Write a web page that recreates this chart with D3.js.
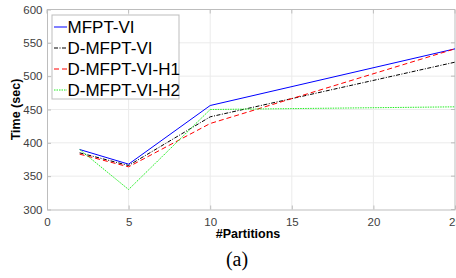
<!DOCTYPE html>
<html><head><meta charset="utf-8">
<script src="https://cdn.jsdelivr.net/npm/d3@7/dist/d3.min.js"></script>
<style>body{margin:0;background:#fff}svg{display:block}
.sans{font-family:'Liberation Sans',Arial,sans-serif}
.serif{font-family:'Liberation Serif','Times New Roman',serif}
</style>
</head><body><svg id="c" width="456" height="278"></svg>
<script>
const partitions = [2, 5, 10, 25];
const seriesNames = ["MFPT-VI", "D-MFPT-VI", "D-MFPT-VI-H1", "D-MFPT-VI-H2"];
const mfptVI = [390, 368, 456, 541];
const dMfptVI = [385, 366, 439, 521];
const dMfptVIH1 = [383, 364, 429, 541];
const dMfptVIH2 = [390, 330, 450, 454];
const xTicks = [0, 5, 10, 15, 20, 25];
const yTicks = [300, 350, 400, 450, 500, 550, 600];
const colors = ["#0000ff", "#000000", "#ff0000", "#22ee22"];
const dashes = [null, "4,1.5,1,1.5", "5,3", "1.5,1"];
const allSeries = [mfptVI, dMfptVI, dMfptVIH1, dMfptVIH2];

const svg = d3.select("#c");
const L = 47, R = 455, T = 9.5, B = 209.5;
const x = d3.scaleLinear().domain([0, 25]).range([L, R]);
const y = d3.scaleLinear().domain([300, 600]).range([B, T]);

// grid
svg.append("g").selectAll("line").data(xTicks.slice(1, -1)).join("line")
  .attr("x1", d => x(d)).attr("x2", d => x(d)).attr("y1", T).attr("y2", B)
  .attr("stroke", "#ebebeb").attr("stroke-width", 1);
svg.append("g").selectAll("line").data(yTicks.slice(1, -1)).join("line")
  .attr("y1", d => y(d)).attr("y2", d => y(d)).attr("x1", L).attr("x2", R)
  .attr("stroke", "#ebebeb").attr("stroke-width", 1);

// axes
const xa = svg.append("g").attr("transform", `translate(0,${B})`)
  .call(d3.axisBottom(x).tickValues(xTicks).tickSizeInner(-4).tickSizeOuter(0).tickPadding(8));
const ya = svg.append("g").attr("transform", `translate(${L},0)`)
  .call(d3.axisLeft(y).tickValues(yTicks).tickSizeInner(-4).tickSizeOuter(0).tickPadding(4.5));
[xa, ya].forEach(a => {
  a.attr("font-family", null).attr("font-size", null);
  a.selectAll("path,line").attr("stroke", "#bdbdbd");
  a.selectAll("text").attr("class", "sans").attr("fill", "#404040").style("font-size", "11.5px");
});
// top & right frame
svg.append("line").attr("x1", L).attr("x2", R).attr("y1", T).attr("y2", T).attr("stroke", "#bdbdbd");
svg.append("line").attr("x1", R).attr("x2", R).attr("y1", T).attr("y2", B).attr("stroke", "#bdbdbd");
svg.append("g").selectAll("line").data(yTicks).join("line")
  .attr("x1", R - 4).attr("x2", R).attr("y1", d => y(d)).attr("y2", d => y(d)).attr("stroke", "#bdbdbd");
svg.append("g").selectAll("line").data(xTicks).join("line")
  .attr("y1", T).attr("y2", T + 4).attr("x1", d => x(d)).attr("x2", d => x(d)).attr("stroke", "#bdbdbd");

// lines
const line = d3.line().x((d, i) => x(partitions[i])).y(d => y(d));
allSeries.forEach((s, k) => {
  svg.append("path").datum(s).attr("d", line).attr("fill", "none")
    .attr("stroke", colors[k]).attr("stroke-width", 1)
    .attr("stroke-dasharray", dashes[k]);
});

// labels
svg.append("text").attr("class", "sans").attr("x", 248).attr("y", 238).attr("text-anchor", "middle")
  .style("font-size", "12.5px").style("font-weight", "bold")
  .text("#Partitions");
svg.append("text").attr("class", "sans").attr("transform", `translate(20,${(T + B) / 2}) rotate(-90)`).attr("text-anchor", "middle")
  .style("font-size", "12.5px").style("font-weight", "bold")
  .text("Time (sec)");
svg.append("text").attr("class", "serif").attr("x", 237).attr("y", 266).attr("text-anchor", "middle")
  .style("font-size", "20px")
  .text("(a)");

// legend
const lg = svg.append("g");
lg.append("rect").attr("x", 52).attr("y", 15).attr("width", 127).attr("height", 84)
  .attr("fill", "#fff").attr("stroke", "#bdbdbd");
seriesNames.forEach((n, k) => {
  const yy = 27 + k * 21;
  lg.append("line").attr("x1", 54).attr("x2", 67).attr("y1", yy).attr("y2", yy)
    .attr("stroke", colors[k]).attr("stroke-dasharray", dashes[k]);
  lg.append("text").attr("class", "sans").attr("x", 67.5).attr("y", yy + 6)
    .style("font-size", "17px")
    .text(n);
});
</script></body></html>
